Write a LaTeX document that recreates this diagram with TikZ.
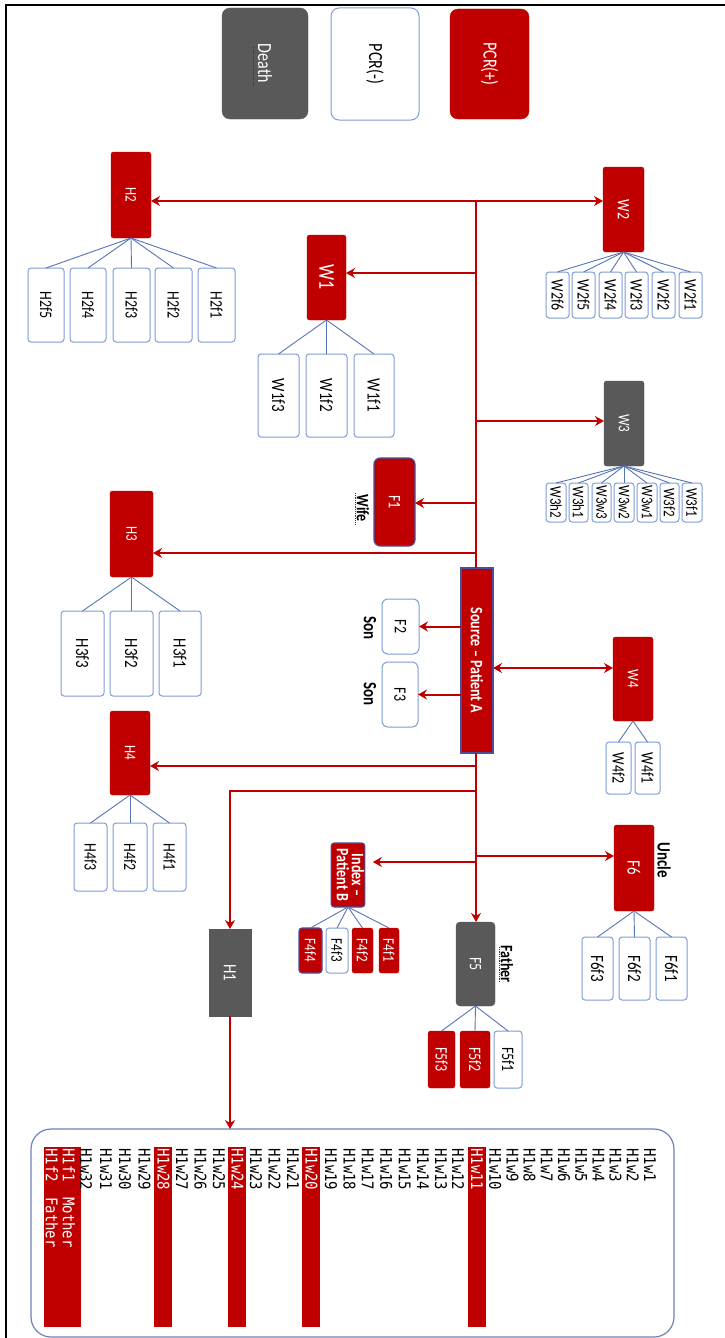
\documentclass[tikz,border=0pt]{standalone}
\usepackage{fontspec}
\setmainfont{Carlito}
\newfontfamily\dvmono{DejaVu Sans Mono}
\usetikzlibrary{arrows.meta}
\definecolor{cred}{HTML}{C00000}
\definecolor{cgray}{HTML}{595959}
\definecolor{cblue}{HTML}{7F9ED8}
\definecolor{cline}{HTML}{5575B8}
\definecolor{cpurp}{HTML}{4A4F9A}
\definecolor{cframe}{HTML}{6E82B8}
\newcommand\strt[1]{\scalebox{1}[1.25]{#1}}
\newcommand\rt[1]{\rotatebox{-90}{\strt{#1}}}
\newcommand\mkbox[7]{\node[#2,minimum width={(#5-#3)*1pt},minimum height={(#6-#4)*1pt}] (#1) at ({(#3+#5)/2},{(#4+#6)/2}) {\rt{#7}};}
\tikzset{
  base/.style={inner sep=0pt, outer sep=0pt},
  rbox/.style={base, fill=cred, draw=cred, rounded corners=2.5pt, text=white},
  rbb/.style={base, fill=cred, draw=cpurp, line width=1.1pt, rounded corners=3pt, text=white},
  gbox/.style={base, fill=cgray, draw=cgray, rounded corners=2.5pt, text=white},
  wbox/.style={base, fill=white, draw=cblue, line width=1pt, rounded corners=3pt, text=black},
  lbl/.style={inner sep=0pt, font=\bfseries\fontsize{14}{16}\selectfont},
  f13/.style={font=\fontsize{13}{15}\selectfont},
  f14/.style={font=\fontsize{14}{16}\selectfont},
  f15/.style={font=\fontsize{15}{17}\selectfont},
  f16/.style={font=\fontsize{16}{18}\selectfont},
  f18/.style={font=\fontsize{18}{20}\selectfont},
  kid/.style={draw=cline, line width=0.9pt},
  arr/.style={draw=cred, line width=2pt, -{Stealth[length=9pt,width=10pt,inset=3pt]}},
  arrb/.style={draw=cred, line width=2pt, {Stealth[length=9pt,width=10pt,inset=3pt]}-{Stealth[length=9pt,width=10pt,inset=3pt]}},
  trunk/.style={draw=cred, line width=2pt},
  lst/.style={inner sep=0pt, anchor=north, font=\dvmono\fontsize{14}{16}\selectfont},
  squig/.style={draw=cred, densely dotted, line width=0.8pt}
}
\newcommand\lt[1]{\rotatebox{-90}{\scalebox{1}[1.15]{#1}}}
\begin{document}
\begin{tikzpicture}[x=1pt,y=-1pt]
\useasboundingbox (0,0) rectangle (725,1338);
\fill[white] (0,0) rectangle (725,1338);
\draw[line width=2pt] (6,1338) -- (6,5) -- (725,5);

% legend
\mkbox{death}{gbox,f16,rounded corners=8pt}{222}{8}{308}{119}{Death}
\mkbox{pcrneg}{wbox,f16,rounded corners=8pt}{331}{8}{419}{120}{PCR(-)}
\mkbox{pcrpos}{rbox,f16,rounded corners=8pt}{450}{9}{529}{119}{PCR(+)}
\draw[squig] (253,47) -- (253,86);

% H2
\mkbox{H2}{rbox,f13}{111}{152}{151}{238}{H2}
\foreach \n/\a/\b in {H2f5/28/64,H2f4/70/106,H2f3/113/150,H2f2/155/192,H2f1/198/235}{
  \mkbox{\n}{wbox,f14}{\a}{268}{\b}{342}{\n}
  \draw[kid] (H2.south) -- (\n.north);}
% W2
\mkbox{W2}{rbox,f14}{603}{167}{644}{252}{W2}
\foreach \n/\a/\b in {W2f6/546/569,W2f5/572/595,W2f4/599/622,W2f3/625/648,W2f2/652/675,W2f1/679/702}{
  \mkbox{\n}{wbox,f14}{\a}{272}{\b}{318}{\n}
  \draw[kid] (W2.south) -- (\n.north);}
% W1
\mkbox{W1}{rbox,f18}{307}{235}{346}{320}{W1}
\foreach \n/\a/\b in {W1f3/258/299,W1f2/306/347,W1f1/354/394}{
  \mkbox{\n}{wbox,f15}{\a}{354}{\b}{437}{\n}
  \draw[kid] (W1.south) -- (\n.north);}
% W3
\mkbox{W3}{gbox,f13}{604}{381}{644}{466}{W3}
\foreach \n/\a/\b in {W3h2/546/566,W3h1/569/588,W3w3/592/611,W3w2/614/634,W3w1/637/657,W3f2/660/679,W3f1/682/702}{
  \mkbox{\n}{wbox,f13}{\a}{483}{\b}{522}{\n}
  \draw[kid] (W3.south) -- (\n.north);}
% F1
\mkbox{F1}{rbb,f14,rounded corners=6pt}{374}{458}{415}{546}{F1}
\node[lbl] (wife) at (363,508) {\rt{Wife}};
\draw[squig] (355,493) -- (355,525);
% H3
\mkbox{H3}{rbox,f13}{110}{491}{153}{577}{H3}
\foreach \n/\a/\b in {H3f3/61/104,H3f2/110/153,H3f1/159/201}{
  \mkbox{\n}{wbox,f15}{\a}{611}{\b}{696}{\n}
  \draw[kid] (H3.south) -- (\n.north);}
% Source
\mkbox{Src}{rbb,font=\bfseries\fontsize{14}{16}\selectfont,rounded corners=0pt}{461}{568}{493}{753}{Source – Patient A}
\draw[squig] (469,645) -- (469,692);
% F2, F3
\mkbox{F2}{wbox,f14,rounded corners=6pt}{382}{599}{419}{654}{F2}
\mkbox{F3}{wbox,f14,rounded corners=6pt}{382}{662}{418}{727}{F3}
\node[lbl,font=\bfseries\fontsize{15}{17}\selectfont] (son1) at (370,628) {\rt{Son}};
\node[lbl,font=\bfseries\fontsize{15}{17}\selectfont] (son2) at (370,694) {\rt{Son}};
% W4
\mkbox{W4}{rbox,f13}{613}{637}{653}{721}{W4}
\foreach \n/\a/\b in {W4f2/606/631,W4f1/635/660}{
  \mkbox{\n}{wbox,f14}{\a}{742}{\b}{794}{\n}
  \draw[kid] (W4.south) -- (\n.north);}
% H4
\mkbox{H4}{rbox,f13}{110}{711}{150}{795}{H4}
\foreach \n/\a/\b in {H4f3/74/107,H4f2/113/147,H4f1/153/186}{
  \mkbox{\n}{wbox,f14}{\a}{823}{\b}{891}{\n}
  \draw[kid] (H4.south) -- (\n.north);}
% H1
\mkbox{H1}{gbox,f15,rounded corners=0pt}{209}{929}{251}{1016}{H1}
% F5
\mkbox{F5}{gbox,f14,rounded corners=4pt}{456}{922}{495}{1006}{F5}
\node[lbl] (father) at (507,964) {\rt{Father}};
\draw[squig] (499,947) -- (499,982);
\foreach \n/\a/\b/\s in {F5f3/428/455/rbox,F5f2/460/490/rbox,F5f1/494/522/wbox}{
  \mkbox{\n}{\s,f14}{\a}{1031}{\b}{1088}{\n}
  \draw[kid] (F5.south) -- (\n.north);}
% Index
\mkbox{Idx}{rbb,font=\bfseries\fontsize{14}{15}\selectfont}{332}{843}{364}{907}{\begin{tabular}{@{}c@{}}Index –\\[-3pt]Patient B\end{tabular}}
\draw[squig] (334,848) -- (334,895);
\foreach \n/\a/\b/\s in {F4f4/299/322/rbb,F4f3/326/348/wbox,F4f2/352/373/rbox,F4f1/379/399/rbox}{
  \mkbox{\n}{\s,f13}{\a}{928}{\b}{973}{\n}
  \draw[kid] (Idx.south) -- (\n.north);}
% F6
\mkbox{F6}{rbox,f15}{614}{825}{654}{911}{F6}
\node[lbl,font=\bfseries\fontsize{15}{17}\selectfont] (uncle) at (664,860) {\rt{Uncle}};
\foreach \n/\a/\b in {F6f3/582/613,F6f2/619/650,F6f1/656/687}{
  \mkbox{\n}{wbox,f15}{\a}{937}{\b}{1000}{\n}
  \draw[kid] (F6.south) -- (\n.north);}

% trunk and arrows
\coordinate (t1) at (476,201);
\coordinate (t2) at (476,273);
\coordinate (t3) at (476,421);
\coordinate (t4) at (476,503);
\coordinate (t5) at (476,553);
\coordinate (t6) at (476,668);
\coordinate (t7) at (476,766);
\coordinate (t8) at (476,791);
\coordinate (t9) at (476,862);
\coordinate (t10) at (476,856);
\draw[trunk] (t1) -- (t1 |- Src.north);
\draw[arrb] (t1 -| H2.east) -- (t1 -| W2.west);
\draw[arr] (t2) -- (t2 -| W1.east);
\draw[arr] (t3) -- (t3 -| W3.west);
\draw[arr] (t4) -- (t4 -| F1.east);
\draw[arr] (t5) -- (t5 -| H3.east);
\draw[arr] (Src.west |- F2) -- (F2.east);
\draw[arr] (Src.west |- F3) -- (F3.east);
\draw[arrb] (t6 -| Src.east) -- (t6 -| W4.west);
\draw[arr] (t1 |- Src.south) -- (t1 |- F5.north);
\draw[arr] (t7) -- (t7 -| H4.east);
\draw[arr] (t8) -| (H1.north);
\draw[arr, shorten >=8pt] (t9) -- (t9 -| Idx.east);
\draw[arr] (t10) -- (t10 -| F6.west);

% H1 group
\mkbox{grp}{base,draw=cframe,line width=1.2pt,rounded corners=20pt}{31}{1129}{674}{1337}{}
\draw[arr] (H1.south) -- (H1.south |- grp.north);
\fill[cred] (468,1147) rectangle (486,1327);
\fill[cred] (302,1147) rectangle (320,1327);
\fill[cred] (228,1147) rectangle (246,1327);
\fill[cred] (154,1147) rectangle (172,1327);
\fill[cred] (44,1147) rectangle (81,1327);
\foreach \i/\x/\c in {1/650/black,2/632.8/black,3/615.6/black,4/598.4/black,5/581.2/black,6/564/black,7/546.8/black,8/529.6/black,9/512.4/black,10/495.2/black,11/477/white,12/458/black,13/441/black,14/423/black,15/404.6/black,16/386.2/black,17/367.8/black,18/349.4/black,19/331/black,20/311.4/white,21/293/black,22/274.5/black,23/256/black,24/237.5/white,25/219/black,26/200.5/black,27/182/black,28/163.5/white,29/144.5/black,30/125/black,31/106/black,32/86/black}{
  \node[lst,text=\c] (H1w\i) at (\x,1148) {\lt{H1w\i}};}
\node[lst,text=white] (H1f1) at (69,1148) {\lt{H1f1}};
\node[lst,text=white] (H1f2) at (52,1148) {\lt{H1f2}};
\node[lst,text=white] (mother) at (69,1197) {\lt{Mother}};
\node[lst,text=white] (fatherb) at (52,1197) {\lt{Father}};
\end{tikzpicture}
\end{document}
